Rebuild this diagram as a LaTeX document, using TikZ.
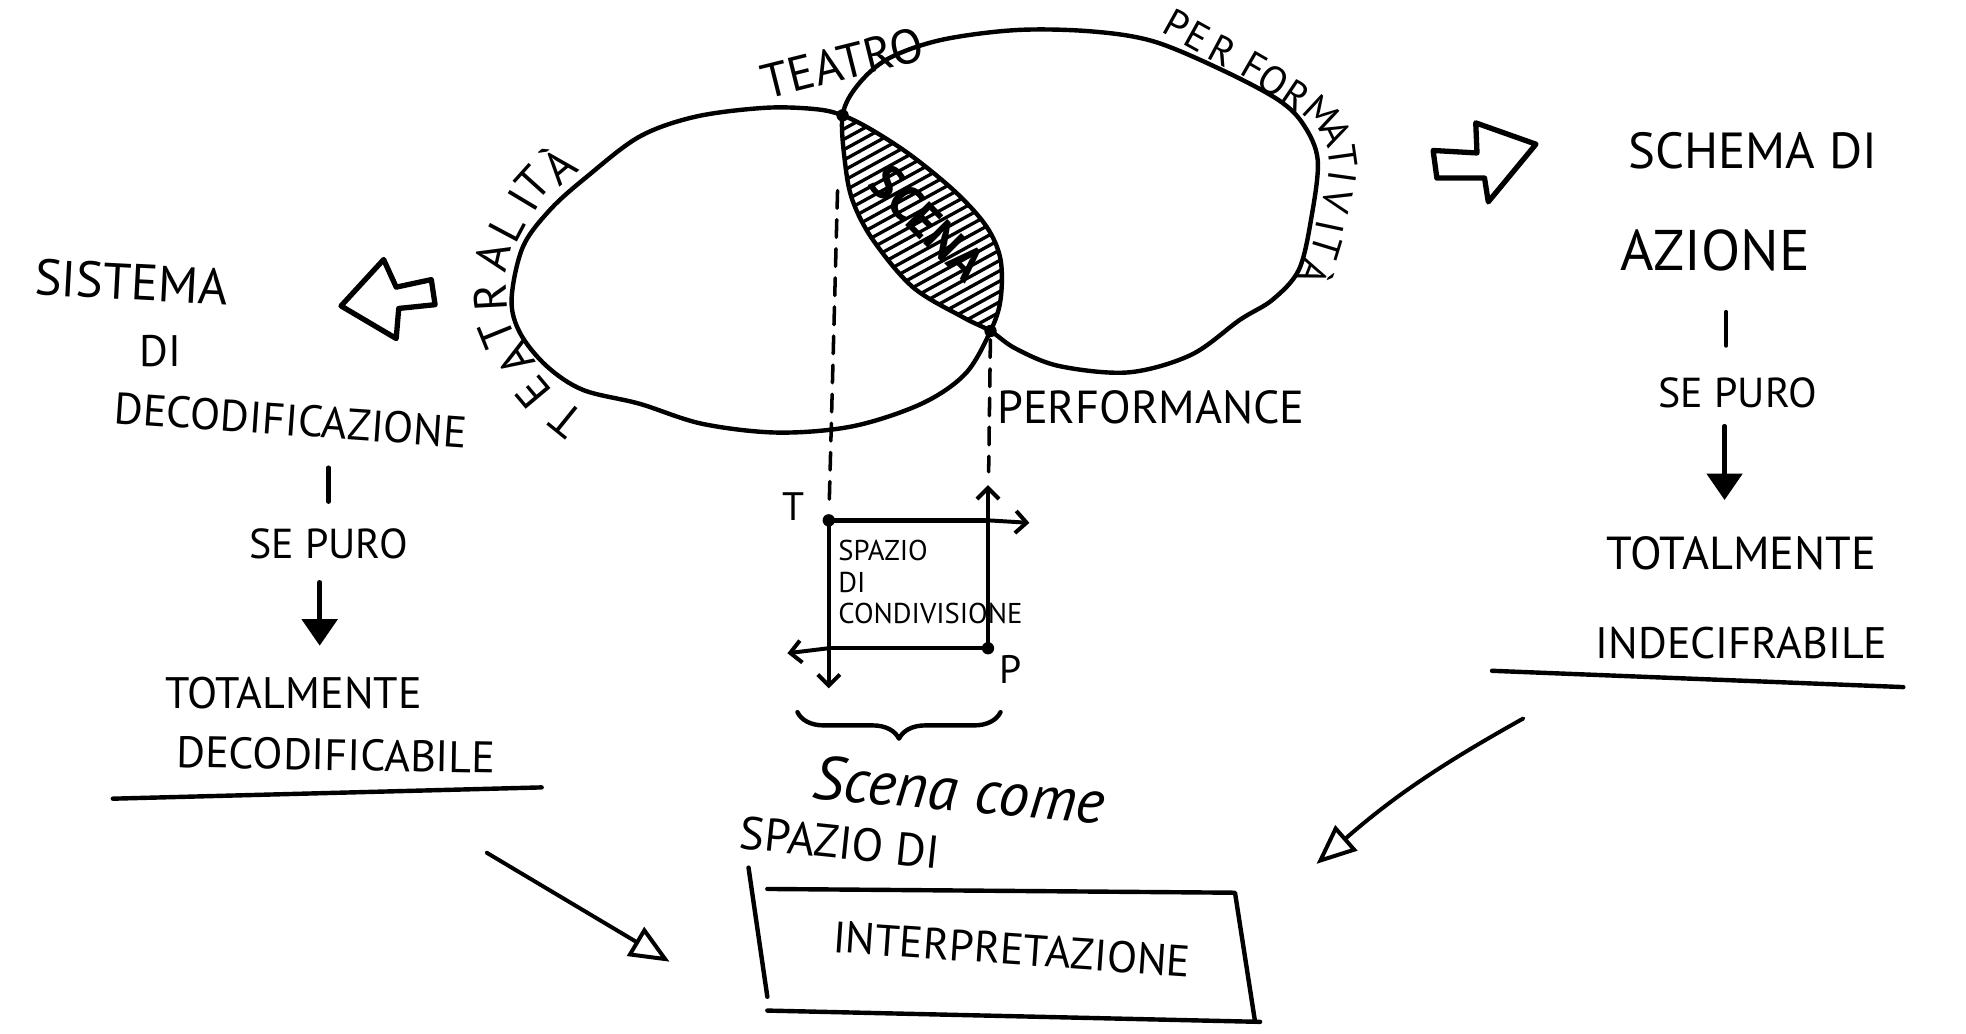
\documentclass[tikz,border=0pt]{standalone}
\usepackage{fontspec}
\setmainfont{PT Sans}
\usetikzlibrary{arrows.meta,decorations.pathreplacing}
\newcommand{\fs}[1]{\fontsize{#1}{#1}\selectfont}
\newcommand{\handNode}{\node[inner sep=0pt]}

\begin{document}
\begin{tikzpicture}[x=0.01cm,y=-0.01cm,line cap=round,line join=round,
    ink/.style={line width=1pt},
    lab/.style={inner sep=0pt,font=\fs{#1}},
    dashln/.style={line width=0.8pt,dash pattern=on 4pt off 2.6pt},
    hollowarr/.style={line width=0.9pt,-{Triangle[open,length=9pt,width=7.5pt]}},
    downarr/.style={line width=1pt,-{Triangle[length=6pt,width=8pt]}},
    barb/.style={line width=0.9pt,-{Straight Barb[length=2.5pt,width=5pt]}}]

\useasboundingbox (0,0) rectangle (1568,824);

% the two blobs (edit here for the shapes)
\def\lblob{plot[smooth cycle,tension=0.55] coordinates {(672,92) (696,104) (728,125) (763,154) (787,181) (798,207) (798,239) (790,264) (770,298) (735,322) (680,340) (620,345) (560,338) (510,322) (465,311) (436,292) (415,266) (408,239) (417,197) (439,167) (468,141) (510,109) (555,93) (610,86) (650,87)}}
\def\rblob{plot[smooth cycle,tension=0.55] coordinates {(672,92) (684,68) (708,47) (750,32) (810,24) (870,25) (920,33) (975,56) (1020,80) (1040,100) (1051,128) (1046,173) (1036,215) (1015,239) (989,255) (950,283) (900,297) (845,292) (810,278) (790,264) (768,253) (728,229) (696,191) (680,160) (674,130)}}

\begin{scope}
  \clip \lblob;
  \clip \rblob;
  \foreach \x in {230,245,...,700}
    \draw[line width=0.75pt] (\x,330) -- ++(520,-286);
\end{scope}
\draw[ink] \lblob;
\draw[ink] \rblob;

\coordinate (tea) at (672,92);
\coordinate (perf) at (790,264);
\fill (tea) circle (1.4pt);
\fill (perf) circle (1.4pt);

\node[lab=11,rotate=14] (teatro) at (672,50) {TEATRO};
\node[inner sep=0pt,rotate=-45,font=\fs{11}\bfseries] (scena) at (740,178) {SCENA};
\node[lab=10.5] (performance) at (918,325) {PERFORMANCE};

% letters along the blobs
\foreach \ch/\px/\py/\ang [count=\i] in {T/452/335/141, E/425/313/130, A/411/287/122, T/396/266/112, R/391/237/93,
    A/393/205/77, L/404/181/62, I/417/160/59, T/425/146/48, À/444/130/40}
  \node[lab=10.5,rotate=\ang] (teatr\i) at (\px,\py) {\ch};
\foreach \ch/\px/\py/\ang [count=\i] in {P/939/20/-29, E/955/29/-29, R/975/40/-28, F/1000/53/-30, O/1016/64/-34,
    R/1034/76/-34, M/1054/90/-43, A/1066/106/-64, T/1071/125/-82, I/1071/141/-98, V/1066/160/-104,
    I/1061/181/-102, T/1058/197/-107, À/1050/218/-111}
  \node[lab=9,rotate=\ang] (perfo\i) at (\px,\py) {\ch};

% space of sharing
\coordinate (dl) at (668,152);
\coordinate (tc) at (661,415);
\coordinate (pc) at (788,517);
\draw[dashln,shorten >=4pt] (dl) -- (tc);
\draw[dashln,shorten <=2pt,shorten >=11pt] (perf) -- (pc |- tc);
\draw[ink] (tc) rectangle (pc);
\fill (tc) circle (1.4pt);
\fill (pc) circle (1.4pt);
\draw[barb] (pc |- tc) -- ++(0,-28);
\draw[barb] (pc |- tc) -- ++(33,2);
\draw[barb] (tc |- pc) -- ++(-33,4);
\draw[barb] (tc |- pc) -- ++(0,32);
\handNode[font=\fs{9}] (tlab) at (633,404) {T};
\handNode[font=\fs{9}] (plab) at (806,534) {P};
\handNode[font=\fontsize{6.5}{7.2}\selectfont,align=left,anchor=north west] (cond) at (668,430) {SPAZIO\\DI\\CONDIVISIONE};

\draw[ink,decorate,decoration={brace,mirror,amplitude=6pt}] (636,568) -- (798,568);
\handNode[font=\fs{14}\itshape,rotate=-5] (scenacome) at (765,630) {Scena come};
\node[lab=10.5,rotate=-6] (spaziodi) at (670,672) {SPAZIO DI};

% interpretation box
\draw[ink] (597,692) -- (612,795);
\draw[ink] (612,709) -- (985,712) -- (1001,815);
\draw[ink] (612,806) -- (1005,815);
\node[lab=10,rotate=-4] (interp) at (807,757) {INTERPRETAZIONE};

\coordinate (la0) at (388,680);
\coordinate (la1) at (534,767);
\draw[hollowarr] (la0) -- (la1);
\coordinate (ra0) at (1215,573);
\coordinate (ra1) at (1050,689);
\draw[hollowarr] (ra0) to[bend right=6] (ra1);

% left column
\draw[ink,line width=1.2pt] (272,244) -- (306,207) -- (316,229) -- (344,223) -- (347,243) -- (318,246) -- (316,270) -- cycle;
\node[lab=11.5,rotate=-3] (sistema) at (105,225) {SISTEMA};
\node[lab=10] (diL) at (128,280) {DI};
\node[lab=10,rotate=-4] (decodif) at (232,335) {DECODIFICAZIONE};
\node[lab=9.5] (sepuroL) at (262,434) {SE PURO};
\node[lab=10] (totL) at (234,553) {TOTALMENTE};
\node[lab=10,rotate=-1] (decab) at (268,602) {DECODIFICABILE};
\draw[ink,shorten <=7pt,shorten >=6pt] (decodif.south -| sepuroL) -- (sepuroL.north);
\draw[downarr,shorten <=5pt,shorten >=7pt] ([xshift=-2pt]sepuroL.south) -- ([xshift=-2pt]sepuroL.south |- totL.north);
\draw[ink] (90,637) -- (432,628);

% right column
\draw[ink,line width=1.2pt] (1143,120) -- (1178,122) -- (1177,98) -- (1225,115) -- (1187,161) -- (1184,142) -- (1146,142) -- cycle;
\node[lab=11.5] (schema) at (1398,120) {SCHEMA DI};
\node[lab=13] (azione) at (1368,200) {AZIONE};
\node[lab=9.5] (sepuroR) at (1386,313) {SE PURO};
\node[lab=10.5] (totR) at (1389,441) {TOTALMENTE};
\node[lab=10] (indec) at (1389,513) {INDECIFRABILE};
\draw[ink,shorten <=9pt,shorten >=7pt] ([xshift=2.5pt]azione.south) -- ([xshift=2.5pt]azione.south |- sepuroR.north);
\draw[downarr,shorten <=4pt,shorten >=8pt] ([xshift=-3pt]sepuroR.south) -- ([xshift=-3pt]sepuroR.south |- totR.north);
\draw[ink] (1190,535) -- (1518,548);

\end{tikzpicture}
\end{document}
